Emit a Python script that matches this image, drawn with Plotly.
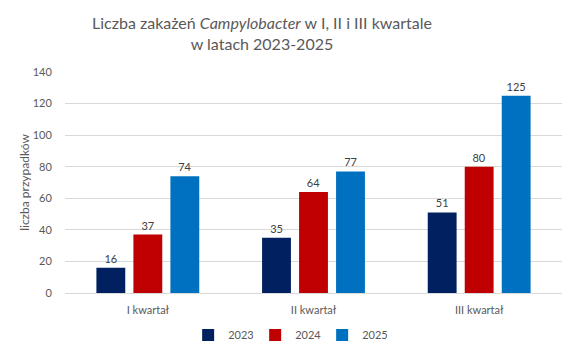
import plotly.graph_objects as go

categories = ["I kwartał", "II kwartał", "III kwartał"]
years = ["2023", "2024", "2025"]
values_2023 = [16, 35, 51]
values_2024 = [37, 64, 80]
values_2025 = [74, 77, 125]
colors = ["#002060", "#C00000", "#0070C0"]

series = [values_2023, values_2024, values_2025]

fig = go.Figure()
for name, vals, col in zip(years, series, colors):
    fig.add_trace(go.Bar(
        x=categories, y=vals, name=name,
        marker=dict(color=col, line=dict(width=0)),
        text=[str(v) for v in vals], textposition="outside",
        textfont=dict(color="#404040", size=11, family="Lato"),
        cliponaxis=False,
    ))

fig.update_layout(
    width=576, height=355,
    margin=dict(l=65, r=14, t=72, b=62, autoexpand=False),
    paper_bgcolor="white", plot_bgcolor="white",
    font=dict(family="Lato", color="#595959", size=11),
    title=dict(
        text="Liczba zakażeń <i>Campylobacter</i> w I, II i III kwartale<br>w latach 2023-2025",
        x=262/576, xref="container", xanchor="center",
        y=1 - 29/355, yref="container", yanchor="middle",
        font=dict(size=16, color="#595959", family="Lato"),
    ),
    barmode="group", bargap=0.33, bargroupgap=0.22,
    showlegend=True,
    legend=dict(orientation="h", x=0.45, xanchor="center",
                yref="container", y=1 - 335/355, yanchor="middle",
                font=dict(size=11, color="#595959"), itemwidth=30, traceorder="normal",
                entrywidth=22, entrywidthmode="pixels"),
    xaxis=dict(showline=True, linecolor="#D9D9D9", linewidth=1, automargin=False,
               ticks="outside", ticklen=7, tickcolor="rgba(0,0,0,0)",
               tickfont=dict(size=11, color="#595959")),
    yaxis=dict(range=[0, 140], dtick=20, gridcolor="#D9D9D9", gridwidth=1, automargin=False,
               zeroline=False, showline=False, ticks="outside", ticklen=10, tickcolor="rgba(0,0,0,0)",
               tickfont=dict(size=11, color="#595959"),
               title=dict(text="liczba przypadków", font=dict(size=12, color="#595959"), standoff=0)),
)

fig.write_html("out.html", config={"displayModeBar": False},
               post_script="document.body.style.margin='0';")
